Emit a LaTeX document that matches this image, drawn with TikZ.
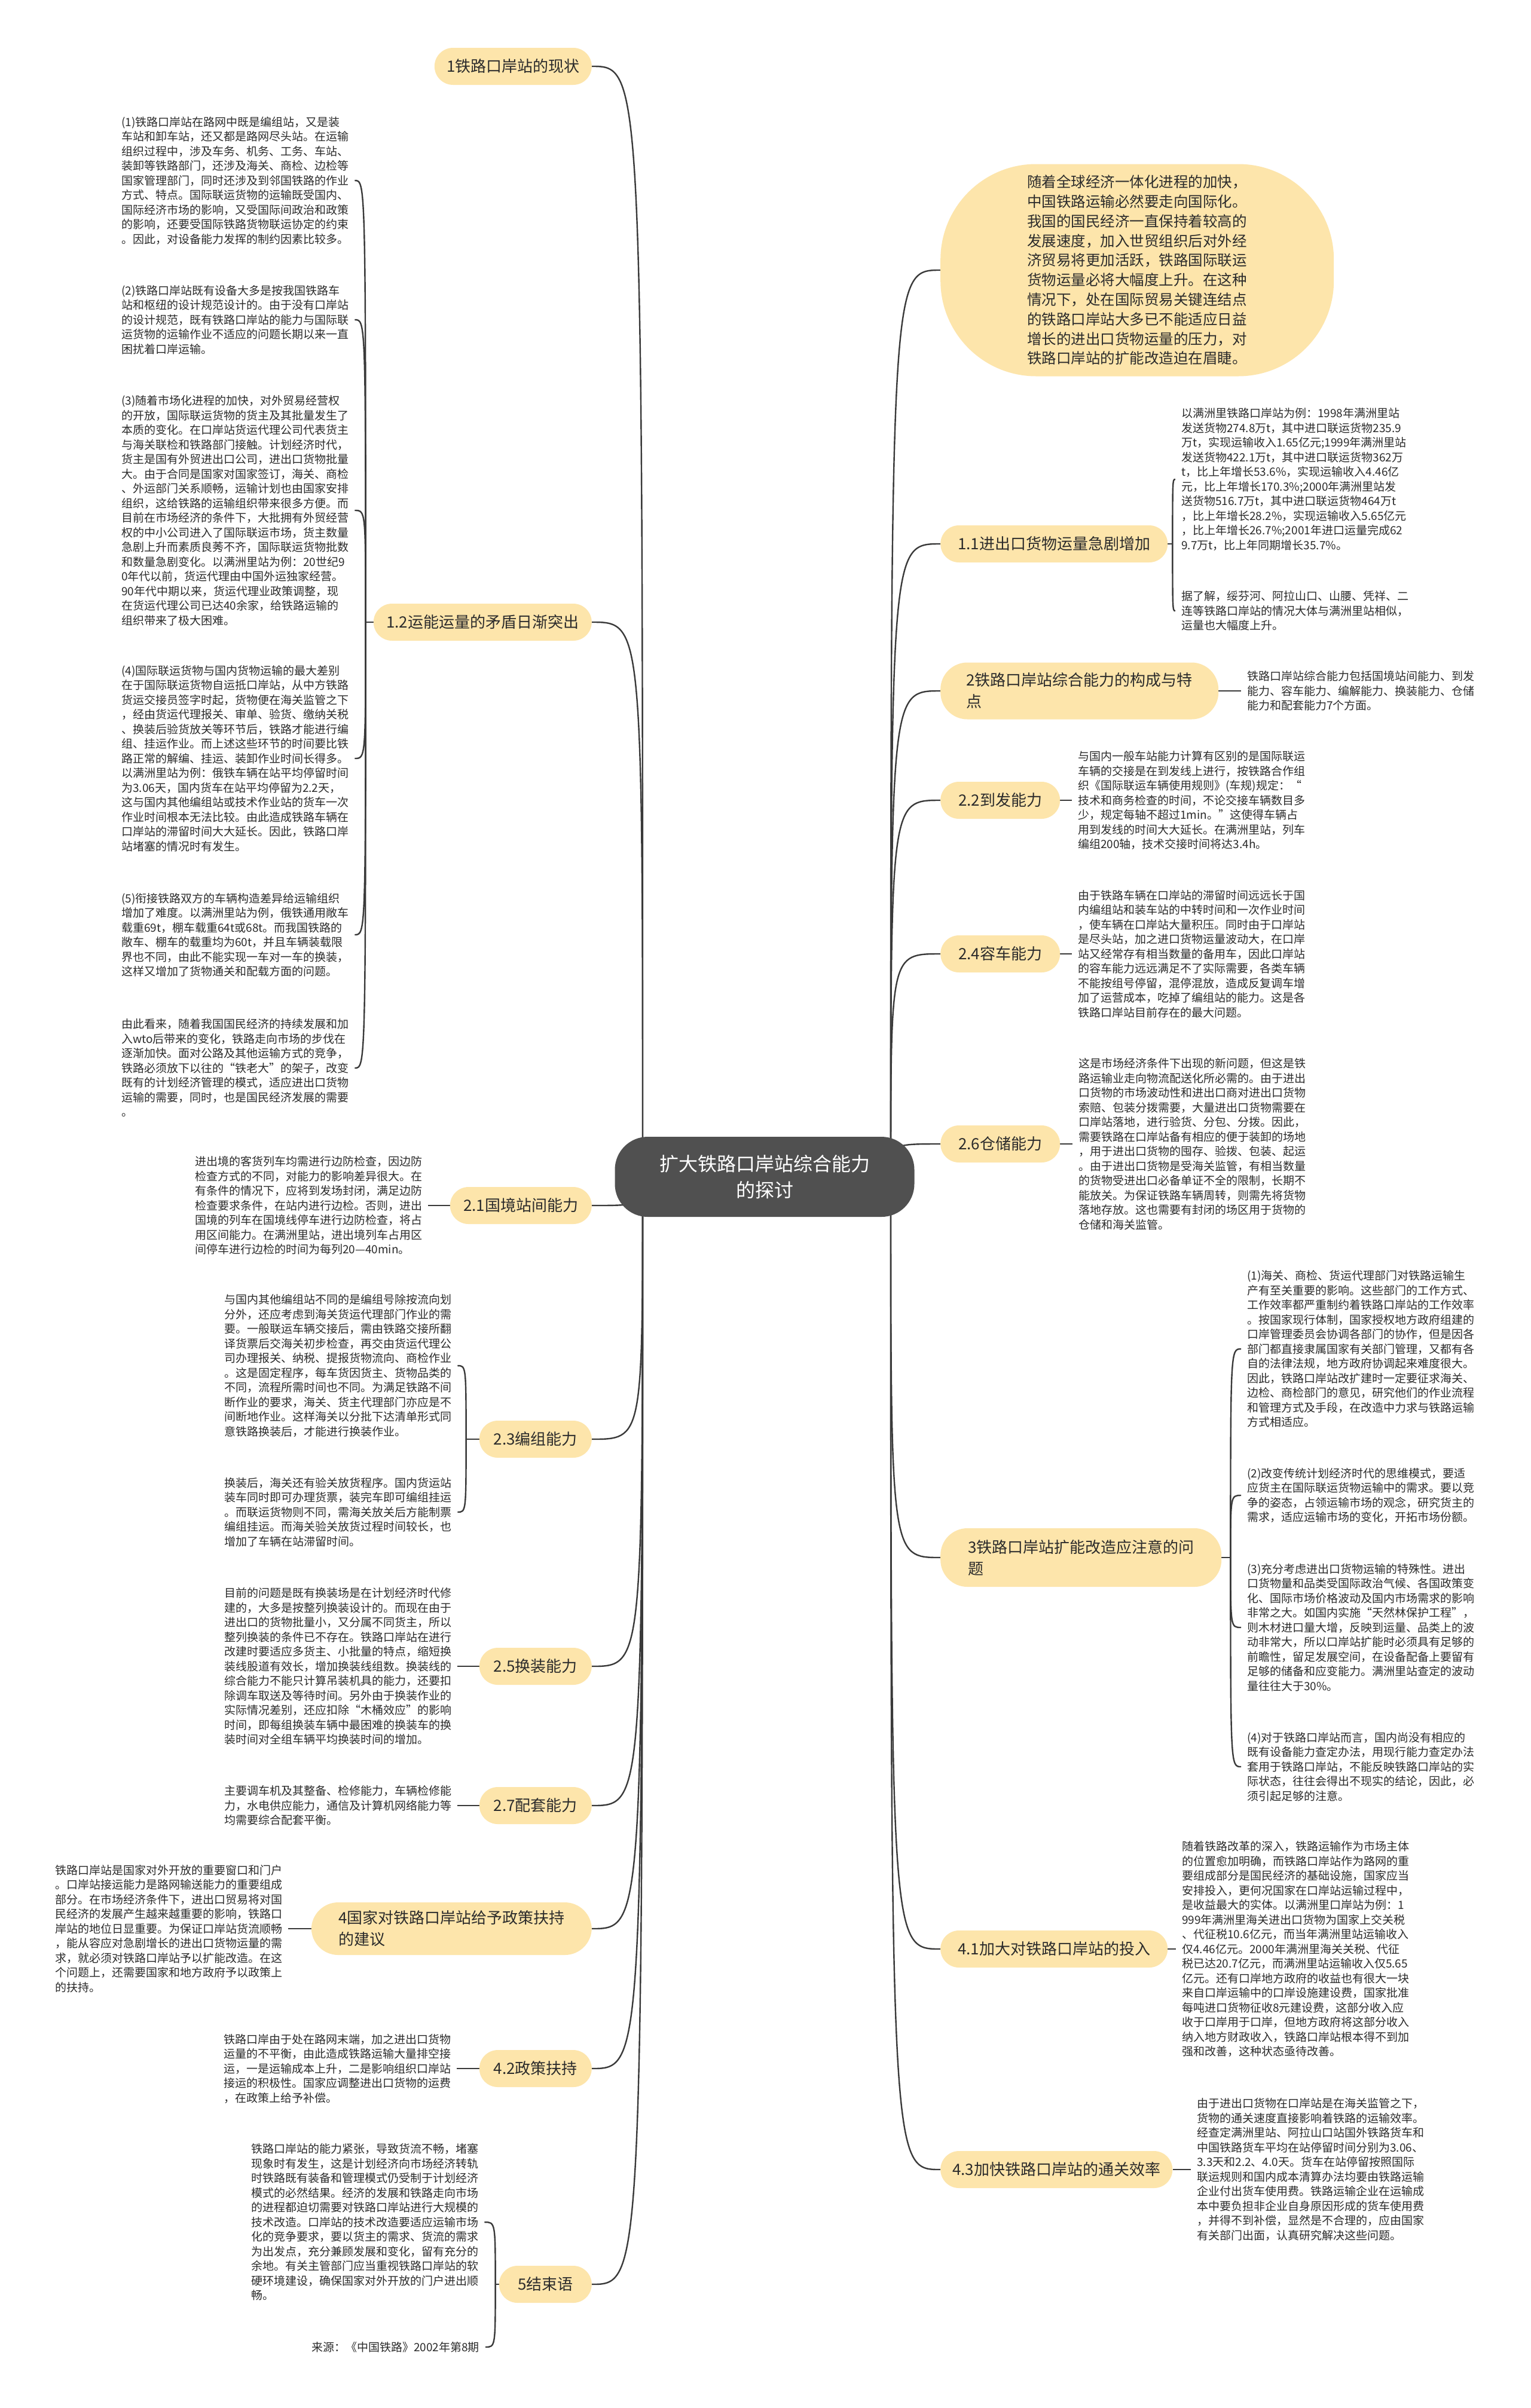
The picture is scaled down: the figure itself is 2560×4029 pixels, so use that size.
\documentclass[tikz,border=0pt]{standalone}
\usepackage{fontspec}
\setmainfont{Noto Sans CJK SC}
\usetikzlibrary{positioning, backgrounds}
\definecolor{pill}{HTML}{FDE5AB}
\definecolor{rootgray}{HTML}{505050}
\definecolor{linec}{HTML}{3A3A3A}
\definecolor{txt}{HTML}{2B2B2B}

\begin{document}
\begin{tikzpicture}[x=1pt, y=-1pt,
    root/.style={rectangle, rounded corners=55pt, fill=rootgray, text=white, align=center, minimum width=501, minimum height=134, font=\fontsize{32}{44}\selectfont},
    branch/.style={rectangle, rounded corners=31pt, fill=pill, text=txt, align=center, minimum height=62, inner xsep=20, inner ysep=0, font=\fontsize{26}{36}\selectfont},
    twoline/.style={branch, rounded corners=45pt, align=left},
    bubble/.style={rectangle, rounded corners=160pt, fill=pill, text=txt, align=left, font=\fontsize{24.5}{32.8}\selectfont},
    leaf/.style={align=left, inner sep=0, text=txt, font=\fontsize{19}{24.5}\selectfont},
    link/.style={draw=linec, line width=2.4pt}
]
    \useasboundingbox (0,0) rectangle (2560,4029);

    % Central topic
    \node[root] (root) at (1279,1969) {扩大铁路口岸站综合能力\\的探讨};
    \coordinate (cl) at (1075,1969);
    \coordinate (cr) at (1490,1969);

    % Left branches
    \node[branch, anchor=east, minimum width=263] (b1) at (990,111) {1铁路口岸站的现状};
    \node[branch, anchor=east, minimum width=365] (b12) at (990,1041) {1.2运能运量的矛盾日渐突出};
    \node[branch, anchor=east, minimum width=237] (b21) at (990,2017) {2.1国境站间能力};
    \node[branch, anchor=east, minimum width=188] (b23) at (990,2408) {2.3编组能力};
    \node[branch, anchor=east, minimum width=188] (b25) at (990,2788) {2.5换装能力};
    \node[branch, anchor=east, minimum width=188] (b27) at (990,3021) {2.7配套能力};
    \node[twoline, anchor=east, minimum width=469, minimum height=88] (b4) at (990,3227) {4国家对铁路口岸站给予政策扶持\\的建议};
    \node[branch, anchor=east, minimum width=188] (b42) at (990,3461) {4.2政策扶持};
    \node[branch, anchor=east, minimum width=155] (b5) at (990,3822) {5结束语};

    % Right branches
    \node[bubble, anchor=west, minimum width=658, minimum height=355] (intro) at (1573,452) {随着全球经济一体化进程的加快，\\中国铁路运输必然要走向国际化。\\我国的国民经济一直保持着较高的\\发展速度，加入世贸组织后对外经\\济贸易将更加活跃，铁路国际联运\\货物运量必将大幅度上升。在这种\\情况下，处在国际贸易关键连结点\\的铁路口岸站大多已不能适应日益\\增长的进出口货物运量的压力，对\\铁路口岸站的扩能改造迫在眉睫。};
    \node[branch, anchor=west, minimum width=380] (b11) at (1573,910) {1.1进出口货物运量急剧增加};
    \node[twoline, anchor=west, minimum width=465, minimum height=95] (b2) at (1573,1156) {2铁路口岸站综合能力的构成与特\\点};
    \node[branch, anchor=west, minimum width=200] (b22) at (1573,1339) {2.2到发能力};
    \node[branch, anchor=west, minimum width=200] (b24) at (1573,1596) {2.4容车能力};
    \node[branch, anchor=west, minimum width=200] (b26) at (1573,1914) {2.6仓储能力};
    \node[twoline, anchor=west, minimum width=470, minimum height=98] (b3) at (1573,2606) {3铁路口岸站扩能改造应注意的问\\题};
    \node[branch, anchor=west, minimum width=380] (b41) at (1573,3261) {4.1加大对铁路口岸站的投入};
    \node[branch, anchor=west, minimum width=382] (b43) at (1573,3630) {4.3加快铁路口岸站的通关效率};

    % Leaves of 1.2
    \node[leaf, anchor=west] (t12a) at (203,302) {(1)铁路口岸站在路网中既是编组站，又是装\\车站和卸车站，还又都是路网尽头站。在运输\\组织过程中，涉及车务、机务、工务、车站、\\装卸等铁路部门，还涉及海关、商检、边检等\\国家管理部门，同时还涉及到邻国铁路的作业\\方式、特点。国际联运货物的运输既受国内、\\国际经济市场的影响，又受国际间政治和政策\\的影响，还要受国际铁路货物联运协定的约束\\。因此，对设备能力发挥的制约因素比较多。};
    \node[leaf, anchor=west] (t12b) at (203,535) {(2)铁路口岸站既有设备大多是按我国铁路车\\站和枢纽的设计规范设计的。由于没有口岸站\\的设计规范，既有铁路口岸站的能力与国际联\\运货物的运输作业不适应的问题长期以来一直\\困扰着口岸运输。};
    \node[leaf, anchor=west] (t12c) at (203,854) {(3)随着市场化进程的加快，对外贸易经营权\\的开放，国际联运货物的货主及其批量发生了\\本质的变化。在口岸站货运代理公司代表货主\\与海关联检和铁路部门接触。计划经济时代，\\货主是国有外贸进出口公司，进出口货物批量\\大。由于合同是国家对国家签订，海关、商检\\、外运部门关系顺畅，运输计划也由国家安排\\组织，这给铁路的运输组织带来很多方便。而\\目前在市场经济的条件下，大批拥有外贸经营\\权的中小公司进入了国际联运市场，货主数量\\急剧上升而素质良莠不齐，国际联运货物批数\\和数量急剧变化。以满洲里站为例：20世纪9\\0年代以前，货运代理由中国外运独家经营。\\90年代中期以来，货运代理业政策调整，现\\在货运代理公司已达40余家，给铁路运输的\\组织带来了极大困难。};
    \node[leaf, anchor=west] (t12d) at (203,1269) {(4)国际联运货物与国内货物运输的最大差别\\在于国际联运货物自运抵口岸站，从中方铁路\\货运交接员签字时起，货物便在海关监管之下\\，经由货运代理报关、审单、验货、缴纳关税\\、换装后验货放关等环节后，铁路才能进行编\\组、挂运作业。而上述这些环节的时间要比铁\\路正常的解编、挂运、装卸作业时间长得多。\\以满洲里站为例：俄铁车辆在站平均停留时间\\为3.06天，国内货车在站平均停留为2.2天，\\这与国内其他编组站或技术作业站的货车一次\\作业时间根本无法比较。由此造成铁路车辆在\\口岸站的滞留时间大大延长。因此，铁路口岸\\站堵塞的情况时有发生。};
    \node[leaf, anchor=west] (t12e) at (203,1564) {(5)衔接铁路双方的车辆构造差异给运输组织\\增加了难度。以满洲里站为例，俄铁通用敞车\\载重69t，棚车载重64t或68t。而我国铁路的\\敞车、棚车的载重均为60t，并且车辆装载限\\界也不同，由此不能实现一车对一车的换装，\\这样又增加了货物通关和配载方面的问题。};
    \node[leaf, anchor=west] (t12f) at (203,1787) {由此看来，随着我国国民经济的持续发展和加\\入wto后带来的变化，铁路走向市场的步伐在\\逐渐加快。面对公路及其他运输方式的竞争，\\铁路必须放下以往的“铁老大”的架子，改变\\既有的计划经济管理的模式，适应进出口货物\\运输的需要，同时，也是国民经济发展的需要\\。};

    % Leaves of 2.x left
    \node[leaf, anchor=west] (t21) at (326,2017) {进出境的客货列车均需进行边防检查，因边防\\检查方式的不同，对能力的影响差异很大。在\\有条件的情况下，应将到发场封闭，满足边防\\检查要求条件，在站内进行边检。否则，进出\\国境的列车在国境线停车进行边防检查，将占\\用区间能力。在满洲里站，进出境列车占用区\\间停车进行边检的时间为每列20—40min。};
    \node[leaf, anchor=west] (t23a) at (375,2285) {与国内其他编组站不同的是编组号除按流向划\\分外，还应考虑到海关货运代理部门作业的需\\要。一般联运车辆交接后，需由铁路交接所翻\\译货票后交海关初步检查，再交由货运代理公\\司办理报关、纳税、提报货物流向、商检作业\\。这是固定程序，每车货因货主、货物品类的\\不同，流程所需时间也不同。为满足铁路不间\\断作业的要求，海关、货主代理部门亦应是不\\间断地作业。这样海关以分批下达清单形式同\\意铁路换装后，才能进行换装作业。};
    \node[leaf, anchor=west] (t23b) at (375,2530) {换装后，海关还有验关放货程序。国内货运站\\装车同时即可办理货票，装完车即可编组挂运\\。而联运货物则不同，需海关放关后方能制票\\编组挂运。而海关验关放货过程时间较长，也\\增加了车辆在站滞留时间。};
    \node[leaf, anchor=west] (t25) at (375,2788) {目前的问题是既有换装场是在计划经济时代修\\建的，大多是按整列换装设计的。而现在由于\\进出口的货物批量小，又分属不同货主，所以\\整列换装的条件已不存在。铁路口岸站在进行\\改建时要适应多货主、小批量的特点，缩短换\\装线股道有效长，增加换装线组数。换装线的\\综合能力不能只计算吊装机具的能力，还要扣\\除调车取送及等待时间。另外由于换装作业的\\实际情况差别，还应扣除“木桶效应”的影响\\时间，即每组换装车辆中最困难的换装车的换\\装时间对全组车辆平均换装时间的增加。};
    \node[leaf, anchor=west] (t27) at (375,3021) {主要调车机及其整备、检修能力，车辆检修能\\力，水电供应能力，通信及计算机网络能力等\\均需要综合配套平衡。};

    % Leaves of 4 and 5 left
    \node[leaf, anchor=west] (t4) at (92,3227) {铁路口岸站是国家对外开放的重要窗口和门户\\。口岸站接运能力是路网输送能力的重要组成\\部分。在市场经济条件下，进出口贸易将对国\\民经济的发展产生越来越重要的影响，铁路口\\岸站的地位日显重要。为保证口岸站货流顺畅\\，能从容应对急剧增长的进出口货物运量的需\\求，就必须对铁路口岸站予以扩能改造。在这\\个问题上，还需要国家和地方政府予以政策上\\的扶持。};
    \node[leaf, anchor=west] (t42) at (374,3461) {铁路口岸由于处在路网末端，加之进出口货物\\运量的不平衡，由此造成铁路运输大量排空接\\运，一是运输成本上升，二是影响组织口岸站\\接运的积极性。国家应调整进出口货物的运费\\，在政策上给予补偿。};
    \node[leaf, anchor=west] (t5a) at (420,3718) {铁路口岸站的能力紧张，导致货流不畅，堵塞\\现象时有发生，这是计划经济向市场经济转轨\\时铁路既有装备和管理模式仍受制于计划经济\\模式的必然结果。经济的发展和铁路走向市场\\的进程都迫切需要对铁路口岸站进行大规模的\\技术改造。口岸站的技术改造要适应运输市场\\化的竞争要求，要以货主的需求、货流的需求\\为出发点，充分兼顾发展和变化，留有充分的\\余地。有关主管部门应当重视铁路口岸站的软\\硬环境建设，确保国家对外开放的门户进出顺\\畅。};
    \node[leaf, anchor=east] (src) at (802,3927) {来源：《中国铁路》2002年第8期};

    % Leaves right
    \node[leaf, anchor=west] (t11a) at (1976,802) {以满洲里铁路口岸站为例：1998年满洲里站\\发送货物274.8万t，其中进口联运货物235.9\\万t，实现运输收入1.65亿元;1999年满洲里站\\发送货物422.1万t，其中进口联运货物362万\\t，比上年增长53.6\%，实现运输收入4.46亿\\元，比上年增长170.3\%;2000年满洲里站发\\送货物516.7万t，其中进口联运货物464万t\\，比上年增长28.2\%，实现运输收入5.65亿元\\，比上年增长26.7\%;2001年进口运量完成62\\9.7万t，比上年同期增长35.7\%。};
    \node[leaf, anchor=west] (t11b) at (1976,1022) {据了解，绥芬河、阿拉山口、山腰、凭祥、二\\连等铁路口岸站的情况大体与满洲里站相似，\\运量也大幅度上升。};
    \node[leaf, anchor=west] (t2) at (2086,1156) {铁路口岸站综合能力包括国境站间能力、到发\\能力、容车能力、编解能力、换装能力、仓储\\能力和配套能力7个方面。};
    \node[leaf, anchor=west] (t22) at (1803,1339) {与国内一般车站能力计算有区别的是国际联运\\车辆的交接是在到发线上进行，按铁路合作组\\织《国际联运车辆使用规则》(车规)规定：“\\技术和商务检查的时间，不论交接车辆数目多\\少，规定每轴不超过1min。”这使得车辆占\\用到发线的时间大大延长。在满洲里站，列车\\编组200轴，技术交接时间将达3.4h。};
    \node[leaf, anchor=west] (t24) at (1803,1596) {由于铁路车辆在口岸站的滞留时间远远长于国\\内编组站和装车站的中转时间和一次作业时间\\，使车辆在口岸站大量积压。同时由于口岸站\\是尽头站，加之进口货物运量波动大，在口岸\\站又经常存有相当数量的备用车，因此口岸站\\的容车能力远远满足不了实际需要，各类车辆\\不能按组号停留，混停混放，造成反复调车增\\加了运营成本，吃掉了编组站的能力。这是各\\铁路口岸站目前存在的最大问题。};
    \node[leaf, anchor=west] (t26) at (1804,1914) {这是市场经济条件下出现的新问题，但这是铁\\路运输业走向物流配送化所必需的。由于进出\\口货物的市场波动性和进出口商对进出口货物\\索赔、包装分拨需要，大量进出口货物需要在\\口岸站落地，进行验货、分包、分拨。因此，\\需要铁路在口岸站备有相应的便于装卸的场地\\，用于进出口货物的囤存、验拨、包装、起运\\。由于进出口货物是受海关监管，有相当数量\\的货物受进出口必备单证不全的限制，长期不\\能放关。为保证铁路车辆周转，则需先将货物\\落地存放。这也需要有封闭的场区用于货物的\\仓储和海关监管。};
    \node[leaf, anchor=west] (t3a) at (2086,2257) {(1)海关、商检、货运代理部门对铁路运输生\\产有至关重要的影响。这些部门的工作方式、\\工作效率都严重制约着铁路口岸站的工作效率\\。按国家现行体制，国家授权地方政府组建的\\口岸管理委员会协调各部门的协作，但是因各\\部门都直接隶属国家有关部门管理，又都有各\\自的法律法规，地方政府协调起来难度很大。\\因此，铁路口岸站改扩建时一定要征求海关、\\边检、商检部门的意见，研究他们的作业流程\\和管理方式及手段，在改造中力求与铁路运输\\方式相适应。};
    \node[leaf, anchor=west] (t3b) at (2086,2502) {(2)改变传统计划经济时代的思维模式，要适\\应货主在国际联运货物运输中的需求。要以竞\\争的姿态，占领运输市场的观念，研究货主的\\需求，适应运输市场的变化，开拓市场份额。};
    \node[leaf, anchor=west] (t3c) at (2086,2723) {(3)充分考虑进出口货物运输的特殊性。进出\\口货物量和品类受国际政治气候、各国政策变\\化、国际市场价格波动及国内市场需求的影响\\非常之大。如国内实施“天然林保护工程”，\\则木材进口量大增，反映到运量、品类上的波\\动非常大，所以口岸站扩能时必须具有足够的\\前瞻性，留足发展空间，在设备配备上要留有\\足够的储备和应变能力。满洲里站查定的波动\\量往往大于30\%。};
    \node[leaf, anchor=west] (t3d) at (2086,2956) {(4)对于铁路口岸站而言，国内尚没有相应的\\既有设备能力查定办法，用现行能力查定办法\\套用于铁路口岸站，不能反映铁路口岸站的实\\际状态，往往会得出不现实的结论，因此，必\\须引起足够的注意。};
    \node[leaf, anchor=west] (t41) at (1977,3261) {随着铁路改革的深入，铁路运输作为市场主体\\的位置愈加明确，而铁路口岸站作为路网的重\\要组成部分是国民经济的基础设施，国家应当\\安排投入，更何况国家在口岸站运输过程中，\\是收益最大的实体。以满洲里口岸站为例：1\\999年满洲里海关进出口货物为国家上交关税\\、代征税10.6亿元，而当年满洲里站运输收入\\仅4.46亿元。2000年满洲里海关关税、代征\\税已达20.7亿元，而满洲里站运输收入仅5.65\\亿元。还有口岸地方政府的收益也有很大一块\\来自口岸运输中的口岸设施建设费，国家批准\\每吨进口货物征收8元建设费，这部分收入应\\收于口岸用于口岸，但地方政府将这部分收入\\纳入地方财政收入，铁路口岸站根本得不到加\\强和改善，这种状态亟待改善。};
    \node[leaf, anchor=west] (t43) at (2002,3630) {由于进出口货物在口岸站是在海关监管之下，\\货物的通关速度直接影响着铁路的运输效率。\\经查定满洲里站、阿拉山口站国外铁路货车和\\中国铁路货车平均在站停留时间分别为3.06、\\3.3天和2.2、4.0天。货车在站停留按照国际\\联运规则和国内成本清算办法均要由铁路运输\\企业付出货车使用费。铁路运输企业在运输成\\本中要负担非企业自身原因形成的货车使用费\\，并得不到补偿，显然是不合理的，应由国家\\有关部门出面，认真研究解决这些问题。};

    \begin{scope}[on background layer]
    \fill[white] (0,0) rectangle (2560,4029);

    % Root to branches
    \foreach \b in {b1,b12,b21,b23,b25,b27,b4,b42,b5}
        \draw[link] (cl) .. controls (cl |- \b.east) .. (\b.east);
    \foreach \b in {intro,b11,b2,b22,b24,b26,b3,b41,b43}
        \draw[link] (cr) .. controls (cr |- \b.west) .. (\b.west);

    % Brackets
    \draw[link] (b12.west) -- ++(-13,0) coordinate (j12);
    \foreach \n in {t12a,t12b,t12c,t12d,t12e,t12f}
        \draw[link] (j12) .. controls (j12 |- \n.east) .. ([xshift=10]\n.east);
    \draw[link] (b23.west) -- ++(-22,0) coordinate (j23);
    \foreach \n in {t23a,t23b}
        \draw[link] (j23) .. controls (j23 |- \n.east) .. ([xshift=10]\n.east);
    \draw[link] (b5.west) -- ++(-6,0) coordinate (j5);
    \foreach \n in {t5a,src}
        \draw[link] (j5) .. controls (j5 |- \n.east) .. ([xshift=10]\n.east);
    \draw[link] (b11.east) -- ++(8,0) coordinate (j11);
    \foreach \n in {t11a,t11b}
        \draw[link] (j11) .. controls (j11 |- \n.west) .. ([xshift=-10]\n.west);
    \draw[link] (b3.east) -- ++(15,0) coordinate (j3);
    \foreach \n in {t3a,t3b,t3c,t3d}
        \draw[link] (j3) .. controls (j3 |- \n.west) .. ([xshift=-10]\n.west);

    % Single leaves
    \foreach \b/\n in {b21/t21,b25/t25,b27/t27,b4/t4,b42/t42}
        \draw[link, shorten >=10] (\b.west) -- (\n.east);
    \foreach \b/\n in {b2/t2,b22/t22,b24/t24,b26/t26,b41/t41,b43/t43}
        \draw[link, shorten >=10] (\b.east) -- (\n.west);
    \end{scope}
\end{tikzpicture}
\end{document}
